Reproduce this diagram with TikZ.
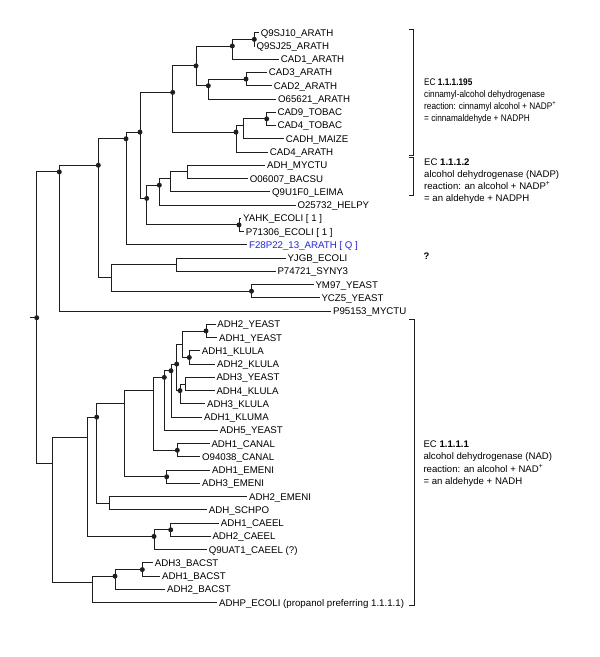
\documentclass[tikz,border=0pt]{standalone}
\usepackage{fontspec}
\setmainfont{Liberation Sans}
\definecolor{qblue}{RGB}{35,35,245}
\definecolor{ln}{RGB}{30,30,30}
\newcommand{\yy}[1]{32.7+(#1-1)*13.256}
\newcommand{\narrow}[1]{\scalebox{0.86}[1]{#1}}
\tikzset{
  br/.style={draw=ln, line width=0.9pt},
  lf/.style={anchor=west, inner xsep=1.6pt, inner ysep=0pt, text height=7pt, text depth=0pt, font=\fontsize{9.7}{11}\selectfont},
  ql/.style={lf, text=qblue},
  ann/.style={anchor=base west, inner sep=0pt, font=\fontsize{9.6}{11}\selectfont},
  bkt/.style={draw=ln, line width=0.9pt},
}
\begin{document}
\begin{tikzpicture}[x=1pt,y=-1pt]
\useasboundingbox (0,0) rectangle (600,657);

% ---------- internal nodes ----------
\coordinate (rs) at (30,{\yy{22.5}});
\coordinate (root) at (36.7,{\yy{22.5}});
\coordinate (A) at (59.3,{\yy{11.5}});
\coordinate (A1) at (98.3,{\yy{11}});
\coordinate (A2) at (126,{\yy{9}});
\coordinate (A3) at (111,{\yy{19.5}});
\coordinate (A4) at (140,{\yy{8.5}});
\coordinate (A5) at (172.7,{\yy{5.5}});
\coordinate (A6) at (146.7,{\yy{13.5}});
\coordinate (A7) at (196,{\yy{3.5}});
\coordinate (A8) at (236,{\yy{8.5}});
\coordinate (A9) at (232.3,{\yy{2}});
\coordinate (A10) at (208.3,{\yy{5}});
\coordinate (A11) at (254.3,{\yy{1.5}});
\coordinate (A12) at (246,{\yy{4.5}});
\coordinate (A13) at (243.3,{\yy{8}});
\coordinate (A14) at (266.7,{\yy{7.5}});
\coordinate (A15) at (159.3,{\yy{12.5}});
\coordinate (A16) at (239,{\yy{15.5}});
\coordinate (A17) at (170,{\yy{12}});
\coordinate (A18) at (187.3,{\yy{11.5}});
\coordinate (A19) at (176.7,{\yy{18.5}});
\coordinate (A20) at (251.5,{\yy{20.5}});
\coordinate (B) at (52.3,{\yy{33.5}});
\coordinate (B1) at (87.3,{\yy{31.5}});
\coordinate (B2) at (92.7,{\yy{42.5}});
\coordinate (B3) at (115,{\yy{42}});
\coordinate (B4) at (142.3,{\yy{41.5}});
\coordinate (B6) at (96.7,{\yy{30}});
\coordinate (B7) at (124,{\yy{29}});
\coordinate (B8) at (153.3,{\yy{28}});
\coordinate (B9) at (166.7,{\yy{34.5}});
\coordinate (B10) at (109,{\yy{36.5}});
\coordinate (B11) at (164.3,{\yy{27}});
\coordinate (B12) at (177.3,{\yy{32.5}});
\coordinate (B13) at (171,{\yy{26.5}});
\coordinate (B14) at (176.7,{\yy{26}});
\coordinate (B15) at (182.7,{\yy{24.5}});
\coordinate (B16) at (180,{\yy{28}});
\coordinate (B17) at (206,{\yy{23.5}});
\coordinate (B18) at (189.3,{\yy{25.5}});
\coordinate (B19) at (185,{\yy{27.5}});
\coordinate (B20) at (154,{\yy{39}});
\coordinate (B21) at (170.7,{\yy{38.5}});

% ---------- leaves ----------
\node[lf] (l1) at (259,{\yy{1}}) {Q9SJ10\_ARATH};
\node[lf] (l2) at (254.7,{\yy{2}}) {Q9SJ25\_ARATH};
\node[lf] (l3) at (279,{\yy{3}}) {CAD1\_ARATH};
\node[lf] (l4) at (267,{\yy{4}}) {CAD3\_ARATH};
\node[lf] (l5) at (272,{\yy{5}}) {CAD2\_ARATH};
\node[lf] (l6) at (276.3,{\yy{6}}) {O65621\_ARATH};
\node[lf] (l7) at (275.7,{\yy{7}}) {CAD9\_TOBAC};
\node[lf] (l8) at (275.7,{\yy{8}}) {CAD4\_TOBAC};
\node[lf] (l9) at (284,{\yy{9}}) {CADH\_MAIZE};
\node[lf] (l10) at (268,{\yy{10}}) {CAD4\_ARATH};
\node[lf] (l11) at (265.3,{\yy{11}}) {ADH\_MYCTU};
\node[lf] (l12) at (248,{\yy{12}}) {O06007\_BACSU};
\node[lf] (l13) at (270.3,{\yy{13}}) {Q9U1F0\_LEIMA};
\node[lf] (l14) at (295.7,{\yy{14}}) {O25732\_HELPY};
\node[lf] (l15) at (241.3,{\yy{15}}) {YAHK\_ECOLI [ 1 ]};
\node[lf] (l16) at (244,{\yy{16}}) {P71306\_ECOLI [ 1 ]};
\node[ql] (l17) at (247.3,{\yy{17}}) {F28P22\_13\_ARATH [ Q ]};
\node[lf] (l18) at (285.7,{\yy{18}}) {YJGB\_ECOLI};
\node[lf] (l19) at (275.7,{\yy{19}}) {P74721\_SYNY3};
\node[lf] (l20) at (313.7,{\yy{20}}) {YM97\_YEAST};
\node[lf] (l21) at (319.7,{\yy{21}}) {YCZ5\_YEAST};
\node[lf] (l22) at (331.3,{\yy{22}}) {P95153\_MYCTU};
\node[lf] (l23) at (215.5,{\yy{23}}) {ADH2\_YEAST};
\node[lf] (l24) at (217.3,{\yy{24}}) {ADH1\_YEAST};
\node[lf] (l25) at (200,{\yy{25}}) {ADH1\_KLULA};
\node[lf] (l26) at (215.3,{\yy{26}}) {ADH2\_KLULA};
\node[lf] (l27) at (214.7,{\yy{27}}) {ADH3\_YEAST};
\node[lf] (l28) at (214.7,{\yy{28}}) {ADH4\_KLULA};
\node[lf] (l29) at (205.3,{\yy{29}}) {ADH3\_KLULA};
\node[lf] (l30) at (202.3,{\yy{30}}) {ADH1\_KLUMA};
\node[lf] (l31) at (218,{\yy{31}}) {ADH5\_YEAST};
\node[lf] (l32) at (209.7,{\yy{32}}) {ADH1\_CANAL};
\node[lf] (l33) at (200.3,{\yy{33}}) {O94038\_CANAL};
\node[lf] (l34) at (210.3,{\yy{34}}) {ADH1\_EMENI};
\node[lf] (l35) at (200.3,{\yy{35}}) {ADH3\_EMENI};
\node[lf] (l36) at (247.3,{\yy{36}}) {ADH2\_EMENI};
\node[lf] (l37) at (207,{\yy{37}}) {ADH\_SCHPO};
\node[lf] (l38) at (219,{\yy{38}}) {ADH1\_CAEEL};
\node[lf] (l39) at (210.7,{\yy{39}}) {ADH2\_CAEEL};
\node[lf] (l40) at (207,{\yy{40}}) {Q9UAT1\_CAEEL (?)};
\node[lf] (l41) at (153,{\yy{41}}) {ADH3\_BACST};
\node[lf] (l42) at (160.3,{\yy{42}}) {ADH1\_BACST};
\node[lf] (l43) at (165.3,{\yy{43}}) {ADH2\_BACST};
\node[lf] (l44) at (217.3,{\yy{44}}) {ADHP\_ECOLI (propanol preferring 1.1.1.1)};

% ---------- branches ----------
\draw[br] (rs) -- (root);
\foreach \p/\c in {root/A, root/B, A/A1, A1/A2, A1/A3, A2/A4, A4/A5, A4/A6,
  A5/A7, A5/A8, A7/A9, A7/A10, A9/A11, A10/A12, A8/A13, A13/A14,
  A6/A15, A6/A16, A15/A17, A17/A18, A3/A19, A3/A20,
  B/B1, B/B2, B1/B6, B1/B20, B6/B7, B6/B10, B7/B8, B7/B9, B8/B11, B8/B12,
  B11/B13, B13/B14, B14/B15, B14/B16, B15/B17, B15/B18, B16/B19,
  B20/B21, B2/B3, B3/B4}
  \draw[br] (\p) |- (\c);
\foreach \p/\c in {A/l22, A2/l17, A9/l3, A11/l1, A11/l2, A10/l6, A12/l4, A12/l5,
  A8/l10, A13/l9, A14/l7, A14/l8, A15/l14, A17/l13, A18/l11, A18/l12,
  A16/l15, A16/l16, A19/l18, A19/l19, A20/l20, A20/l21,
  B11/l31, B13/l30, B17/l23, B17/l24, B18/l25, B18/l26, B16/l29, B19/l27, B19/l28,
  B12/l32, B12/l33, B9/l34, B9/l35, B10/l36, B10/l37, B20/l40, B21/l38, B21/l39,
  B2/l44, B3/l43, B4/l41, B4/l42}
  \draw[br] (\p) |- (\c.west);

% ---------- support dots ----------
\foreach \n in {root, A, A1, A2, A4, A5, A6, A7, A8, A9, A10, A11, A12, A14, A15, A16, A20,
  B3, B4, B6, B9, B11, B12, B13, B14, B16, B17, B18, B20, B21}
  \fill[ln] (\n) circle (2.5pt);

% ---------- brackets ----------
\draw[bkt] (408.5,29) -- (413.3,29) -- (413.3,155) -- (408.5,155);
\draw[bkt] (408.5,157.5) -- (413.3,157.5) -- (413.3,195.7) -- (408.5,195.7);
\draw[bkt] (409.3,319.3) -- (414,319.3) -- (414,605) -- (409.3,605);

% ---------- annotations ----------
\node[ann] (e1a) at (424,85.2) {\narrow{EC \textbf{1.1.1.195}}};
\node[ann] (e1b) at (424,97.3) {\narrow{cinnamyl-alcohol dehydrogenase}};
\node[ann] (e1c) at (424,109.4) {\narrow{reaction: cinnamyl alcohol + NADP\textsuperscript{+}}};
\node[ann] (e1d) at (424,121.5) {\narrow{= cinnamaldehyde + NADPH}};

\node[ann] (e2a) at (424,165.2) {EC \textbf{1.1.1.2}};
\node[ann] (e2b) at (424,177.3) {alcohol dehydrogenase (NADP)};
\node[ann] (e2c) at (424,189.4) {reaction: an alcohol + NADP\textsuperscript{+}};
\node[ann] (e2d) at (424,201) {= an aldehyde + NADPH};

\node[anchor=base west, inner sep=0pt, font=\fontsize{9.5}{10}\selectfont\bfseries] (qm) at (423.5,259.5) {?};

\node[ann] (e3a) at (423.3,447.8) {EC \textbf{1.1.1.1}};
\node[ann] (e3b) at (423.3,459.9) {alcohol dehydrogenase (NAD)};
\node[ann] (e3c) at (423.3,472) {reaction: an alcohol + NAD\textsuperscript{+}};
\node[ann] (e3d) at (423.3,484.1) {= an aldehyde + NADH};
\end{tikzpicture}
\end{document}
